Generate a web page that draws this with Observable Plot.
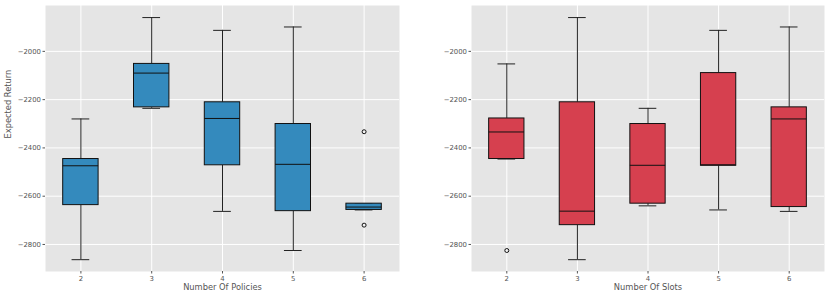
<!DOCTYPE html>
<html>
<head>
<meta charset="utf-8">
<script src="https://cdn.jsdelivr.net/npm/d3@7"></script>
<script src="https://cdn.jsdelivr.net/npm/@observablehq/plot@0.6"></script>
<style>
  html, body { margin: 0; padding: 0; background: #fff; }
  #row { display: flex; flex-direction: row; width: 830px; height: 299px; }
  svg { font-family: "DejaVu Sans", sans-serif; }
</style>
</head>
<body>
<div id="row"></div>
<script>
// Categories
const categories = [2, 3, 4, 5, 6];
const tickLabels = ["2", "3", "4", "5", "6"];
const yTicks = [-2000, -2200, -2400, -2600, -2800];

// Left panel: Number Of Policies (five-number summaries)
const policiesWhiskerLow = [-2863, -2236, -2663, -2825, -2657];
const policiesQ1         = [-2637, -2232, -2472, -2662, -2657];
const policiesMedian     = [-2474, -2090, -2278, -2468, -2645];
const policiesQ3         = [-2446, -2052, -2211, -2301, -2631];
const policiesWhiskerHigh= [-2280, -1860, -1913, -1899, -2631];
const policiesOutlierX   = [6, 6];
const policiesOutlierY   = [-2333, -2720];

// Right panel: Number Of Slots
const slotsWhiskerLow = [-2446, -2863, -2640, -2657, -2663];
const slotsQ1         = [-2446, -2720, -2631, -2474, -2645];
const slotsMedian     = [-2334, -2662, -2472, -2470, -2280];
const slotsQ3         = [-2278, -2211, -2301, -2090, -2232];
const slotsWhiskerHigh= [-2052, -1860, -2236, -1913, -1899];
const slotsOutlierX   = [2];
const slotsOutlierY   = [-2825];

function boxPanel(opts) {
  const {width, marginLeft, marginRight, color, xLabel, yLabel,
         lo, q1, med, q3, hi, ox, oy} = opts;
  const rows = categories.map((c, i) => ({c, lo: lo[i], q1: q1[i], med: med[i], q3: q3[i], hi: hi[i]}));
  const outs = ox.map((x, i) => ({x, y: oy[i]}));
  const hb = 0.25, hc = 0.125;
  const marks = [
    Plot.frame({fill: "#e5e5e5", stroke: null}),
    Plot.gridX(categories, {stroke: "#fff", strokeOpacity: 1, strokeWidth: 1}),
    Plot.gridY(yTicks, {stroke: "#fff", strokeOpacity: 1, strokeWidth: 1}),
    Plot.axisX({ticks: categories, tickFormat: (d, i) => tickLabels[categories.indexOf(d)],
      tickSize: 2.5, tickPadding: 2, fontSize: 6.9, color: "#555", stroke: "#555", label: null}),
    Plot.axisY({ticks: yTicks, tickFormat: d => d3.format(",")(d).replace(",", "").replace("-", "\u2212"),
      tickSize: 2.5, tickPadding: 2, fontSize: 6.9, color: "#555", stroke: "#555", label: null}),
    // whiskers
    Plot.ruleX(rows, {x: "c", y1: "lo", y2: "q1", stroke: "#222", strokeWidth: 1}),
    Plot.ruleX(rows, {x: "c", y1: "q3", y2: "hi", stroke: "#222", strokeWidth: 1}),
    // caps
    Plot.ruleY(rows, {y: "lo", x1: d => d.c - hc, x2: d => d.c + hc, stroke: "#222", strokeWidth: 1}),
    Plot.ruleY(rows, {y: "hi", x1: d => d.c - hc, x2: d => d.c + hc, stroke: "#222", strokeWidth: 1}),
    // boxes
    Plot.rect(rows, {x1: d => d.c - hb, x2: d => d.c + hb, y1: "q1", y2: "q3",
      fill: color, stroke: "#111", strokeWidth: 1}),
    // medians
    Plot.ruleY(rows, {y: "med", x1: d => d.c - hb, x2: d => d.c + hb, stroke: "#111", strokeWidth: 1}),
    // outliers
    Plot.dot(outs, {x: "x", y: "y", r: 2, stroke: "#111", fill: "none", strokeWidth: 1}),
    // axis titles
    Plot.text([xLabel], {frameAnchor: "bottom", dy: 18.5, text: d => d, fontSize: 8.3, fill: "#555"})
  ];
  if (yLabel) {
    marks.push(Plot.text([yLabel], {frameAnchor: "left", dx: -37, rotate: -90, text: d => d, fontSize: 8.3, fill: "#555"}));
  }
  return Plot.plot({
    width, height: 299,
    marginLeft, marginRight, marginTop: 5, marginBottom: 28,
    style: {fontFamily: "DejaVu Sans, sans-serif", background: "#fff", overflow: "visible"},
    x: {type: "linear", domain: [1.5, 6.5]},
    y: {type: "linear", domain: [-2912, -1810]},
    marks
  });
}

const row = document.getElementById("row");
row.appendChild(boxPanel({
  width: 415, marginLeft: 45, marginRight: 16, color: "#348abd",
  xLabel: "Number Of Policies", yLabel: "Expected Return",
  lo: policiesWhiskerLow, q1: policiesQ1, med: policiesMedian, q3: policiesQ3, hi: policiesWhiskerHigh,
  ox: policiesOutlierX, oy: policiesOutlierY
}));
row.appendChild(boxPanel({
  width: 415, marginLeft: 56, marginRight: 6, color: "#d6404f",
  xLabel: "Number Of Slots", yLabel: null,
  lo: slotsWhiskerLow, q1: slotsQ1, med: slotsMedian, q3: slotsQ3, hi: slotsWhiskerHigh,
  ox: slotsOutlierX, oy: slotsOutlierY
}));
</script>
</body>
</html>
